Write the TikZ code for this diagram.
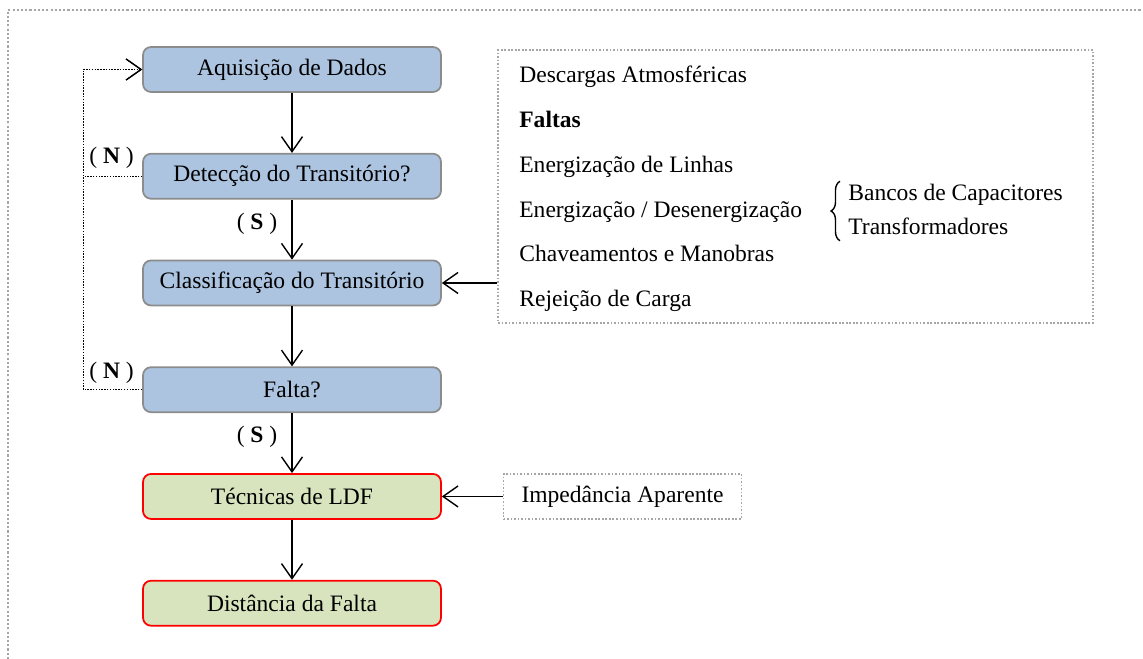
\documentclass[tikz,border=0pt]{standalone}
\usepackage{fontspec}
\setmainfont{Liberation Serif}
\usetikzlibrary{arrows.meta, positioning, decorations.pathreplacing}
\definecolor{boxblue}{HTML}{ACC4E0}
\definecolor{boxgreen}{HTML}{D7E4BD}
\definecolor{edgegray}{HTML}{8C8C8C}
\definecolor{framegray}{HTML}{A6A6A6}

\begin{document}
\begin{tikzpicture}[
  x=0.02cm, y=-0.02cm,
  node distance=1.2cm,
  font=\fontsize{13.4}{16}\selectfont,
  block/.style={rectangle, draw=edgegray, line width=1pt, fill=boxblue, rounded corners=0.16cm, text centered, minimum width=5.96cm, minimum height=0.9cm},
  gblock/.style={block, draw=red, fill=boxgreen},
  item/.style={inner sep=0pt, text height=0.7em, text depth=0.25em},
  lbl/.style={inner sep=0pt},
  infobox/.style={rectangle, draw=framegray, line width=0.8pt, dash pattern=on 1pt off 1pt},
  arrow/.style={-{Straight Barb[length=0.3cm, width=0.42cm]}, line width=0.8pt},
  dotarrow/.style={arrow, line width=0.7pt, dash pattern=on 0.8pt off 0.8pt}
]
\useasboundingbox (0,0) rectangle (1143,659);

% outer frame
\draw[framegray, line width=1.1pt, dash pattern=on 1.2pt off 1.2pt] (8,659) -- (8,10) -- (1143,10);

% Main column
\node[block] (aquis) at (292,69.5) {Aquisição de Dados};
\node[block, below=of aquis] (detec) {Detecção do Transitório?};
\node[block, below=of detec] (classif) {Classificação do Transitório};
\node[block, below=of classif] (falta) {Falta?};
\node[gblock, below=of falta] (ldf) {Técnicas de LDF};
\node[gblock, below=of ldf] (dist) {Distância da Falta};

% Transient types
\node[infobox, minimum width=11.9cm, minimum height=5.46cm] (causas) at (795.5,186.5) {};
\node[item, anchor=west] (t1) at (519,79) {Descargas Atmosféricas};
\node[item, below=0.895cm of t1.west, anchor=west] (t2) {\textbf{Faltas}};
\node[item, below=0.895cm of t2.west, anchor=west] (t3) {Energização de Linhas};
\node[item, below=0.895cm of t3.west, anchor=west] (t4) {Energização / Desenergização};
\node[item, below=0.895cm of t4.west, anchor=west] (t5) {Chaveamentos e Manobras};
\node[item, below=0.895cm of t5.west, anchor=west] (t6) {Rejeição de Carga};
\node[item, anchor=west] (bancos) at (848,197) {Bancos de Capacitores};
\node[item, below=0.68cm of bancos.west, anchor=west] (transf) {Transformadores};
\draw[decorate, decoration={brace, amplitude=0.18cm}, line width=0.8pt]
  ([xshift=-0.16cm, yshift=-0.02cm]transf.south west) -- ([xshift=-0.16cm, yshift=0.14cm]bancos.north west);

% Method
\node[infobox, right=1.22cm of ldf, minimum width=4.76cm, minimum height=0.9cm] (imped) {Impedância Aparente};

% Arrows down the column
\draw[arrow] (aquis) -- (detec);
\draw[arrow] (detec) -- node[lbl, pos=0.4, left=0.28cm] {( \textbf{S} )} (classif);
\draw[arrow] (classif) -- (falta);
\draw[arrow] (falta) -- node[lbl, pos=0.4, left=0.28cm] {( \textbf{S} )} (ldf);
\draw[arrow] (ldf) -- (dist);

% Feedback (N)
\draw[dotarrow] (detec.west) -- ++(-59,0) |- (aquis.west);
\draw[dotarrow] (falta.west) -- ++(-59,0) |- (aquis.west);
\node[lbl, anchor=east] at ([xshift=-0.16cm, yshift=0.36cm]detec.west) {( \textbf{N} )};
\node[lbl, anchor=east] at ([xshift=-0.16cm, yshift=0.33cm]falta.west) {( \textbf{N} )};

% Inputs from the right
\draw[arrow] (causas.west |- classif.east) -- (classif.east);
\draw[arrow] (imped.west) -- (ldf.east);

\end{tikzpicture}
\end{document}
